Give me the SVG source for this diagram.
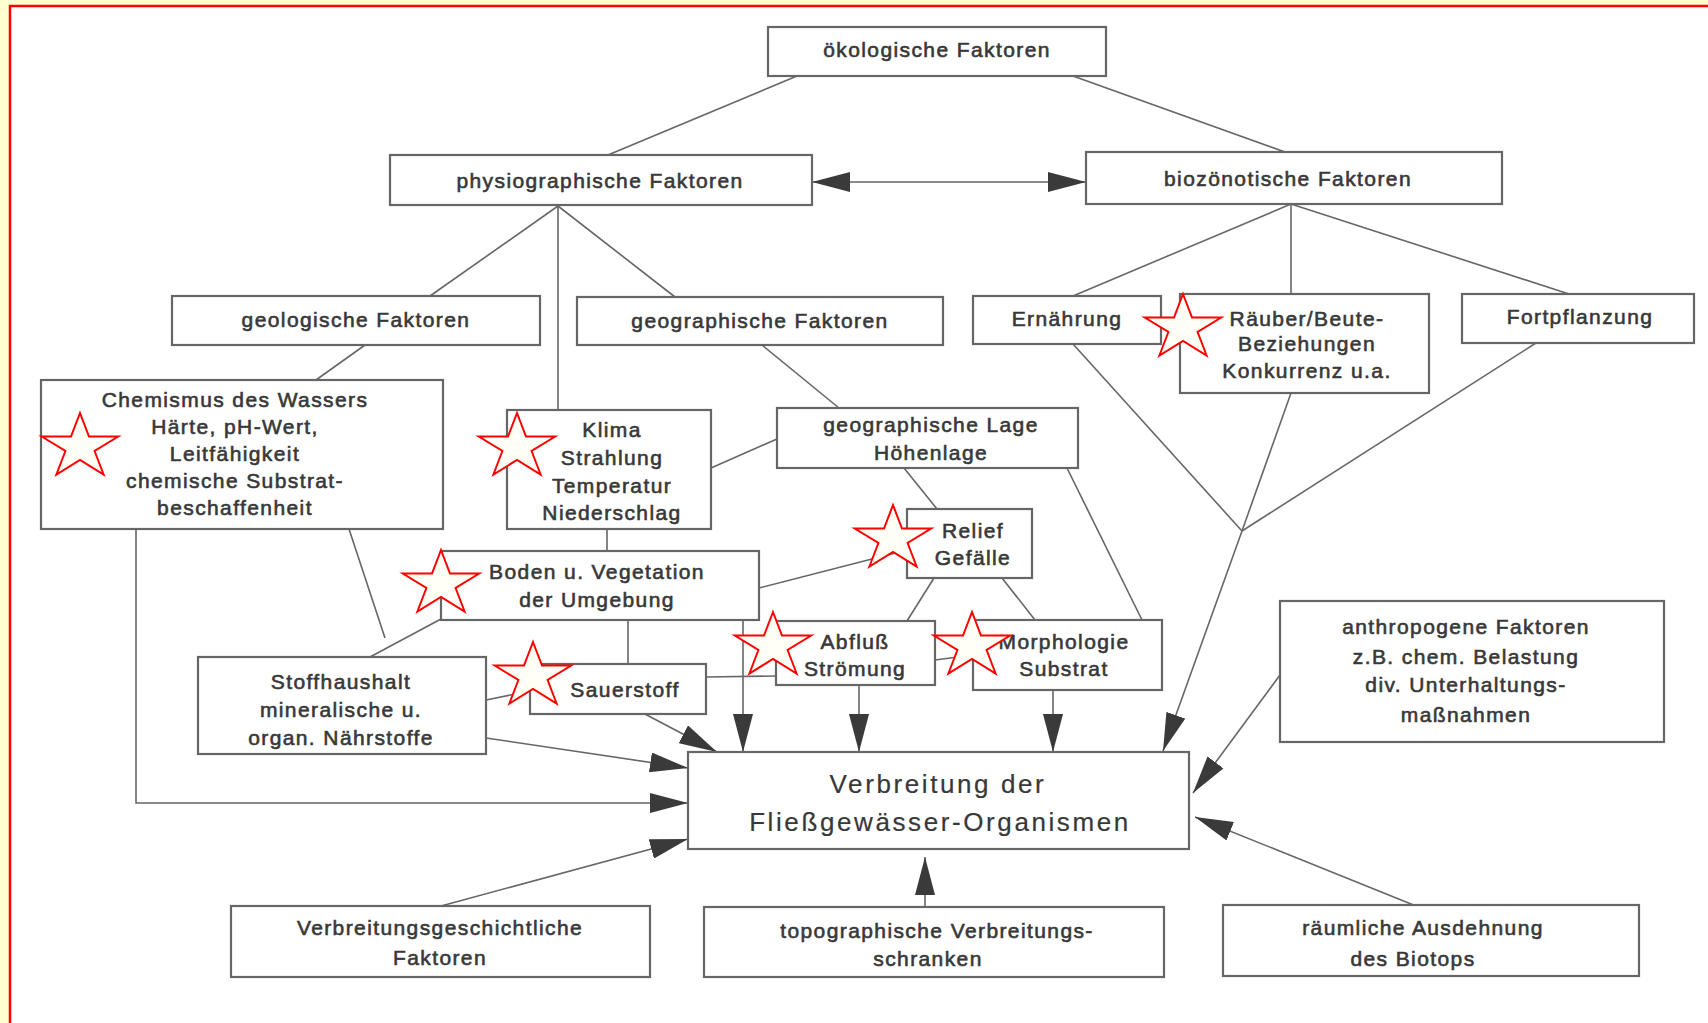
<svg xmlns="http://www.w3.org/2000/svg" width="1708" height="1023" viewBox="0 0 1708 1023">
<style>
.box{fill:#fff;stroke:#666;stroke-width:2.2}
.t{font-family:"Liberation Sans",Arial,sans-serif;font-size:21px;letter-spacing:1.4px;fill:#383838;stroke:#383838;stroke-width:0.6;text-anchor:middle}
.big{font-size:26px;letter-spacing:2.6px;stroke-width:0.2}
.ln{fill:none;stroke:#666;stroke-width:1.6}
.ar{marker-end:url(#ah)}
.star{fill:#fffff5;stroke:#ff0000;stroke-width:2}
</style>
<defs>
<marker id="ah" viewBox="0 0 38 20" refX="38" refY="10" markerWidth="38" markerHeight="20" markerUnits="userSpaceOnUse" orient="auto-start-reverse">
<path d="M0,0 L38,10 L0,20 Z" fill="#3a3a3a"/>
</marker>
<polygon id="star" class="star" points="0,-34 9,-10.5 38.2,-10.5 14.6,4 23.6,27.5 0,13 -23.6,27.5 -14.6,4 -38.2,-10.5 -9,-10.5"/>
</defs>
<rect x="0" y="0" width="1708" height="1023" fill="#ffffd0"/>
<rect x="10" y="6" width="1700" height="1020" fill="#ffffff"/>
<path d="M10,1023 L10,6 L1708,6" fill="none" stroke="#ff0000" stroke-width="2.5"/>

<g id="connectors">
<line class="ln" x1="797" y1="76" x2="608" y2="155"/>
<line class="ln" x1="1073" y1="76" x2="1285" y2="152"/>
<line class="ln" x1="812" y1="182" x2="1086" y2="182" style="marker-start:url(#ah);marker-end:url(#ah)"/>
<line class="ln" x1="558" y1="206" x2="430" y2="296"/>
<line class="ln" x1="558" y1="206" x2="558" y2="410"/>
<line class="ln" x1="558" y1="206" x2="675" y2="297"/>
<line class="ln" x1="1291" y1="204" x2="1073" y2="296"/>
<line class="ln" x1="1291" y1="204" x2="1291" y2="294"/>
<line class="ln" x1="1291" y1="204" x2="1569" y2="294"/>
<line class="ln" x1="365" y1="345" x2="316" y2="380"/>
<line class="ln" x1="762" y1="345" x2="839" y2="408"/>
<line class="ln" x1="711" y1="468" x2="777" y2="439"/>
<line class="ln" x1="904" y1="468" x2="937" y2="509"/>
<line class="ln" x1="1067" y1="468" x2="1142" y2="620"/>
<line class="ln" x1="607" y1="529" x2="607" y2="551"/>
<line class="ln" x1="759" y1="588" x2="907" y2="550"/>
<line class="ln" x1="934" y1="578" x2="907" y2="621"/>
<line class="ln" x1="1002" y1="578" x2="1035" y2="620"/>
<line class="ln" x1="349" y1="529" x2="385" y2="638"/>
<line class="ln" x1="441" y1="619" x2="370" y2="657"/>
<path class="ln ar" d="M136,529 L136,803 L688,803"/>
<line class="ln ar" x1="486" y1="738" x2="688" y2="768"/>
<line class="ln" x1="486" y1="700" x2="530" y2="691"/>
<line class="ln" x1="706" y1="677" x2="776" y2="676"/>
<line class="ln" x1="935" y1="660" x2="973" y2="655"/>
<line class="ln ar" x1="643" y1="713" x2="717" y2="752"/>
<line class="ln" x1="628" y1="620" x2="628" y2="664"/>
<line class="ln ar" x1="743" y1="620" x2="743" y2="752"/>
<line class="ln ar" x1="859" y1="685" x2="859" y2="752"/>
<line class="ln ar" x1="1053" y1="690" x2="1053" y2="752"/>
<line class="ln" x1="1073" y1="344" x2="1242" y2="531"/>
<line class="ln" x1="1291" y1="393" x2="1242" y2="531"/>
<line class="ln" x1="1536" y1="343" x2="1242" y2="531"/>
<line class="ln ar" x1="1242" y1="531" x2="1163" y2="751"/>
<line class="ln ar" x1="1280" y1="675" x2="1193" y2="793"/>
<line class="ln ar" x1="1416" y1="906" x2="1195" y2="817"/>
<line class="ln ar" x1="925" y1="906" x2="925" y2="857"/>
<line class="ln ar" x1="441" y1="906" x2="688" y2="839"/>
</g>

<g id="n-oeko"><rect class="box" x="768" y="27" width="338" height="49"/><text class="t" x="937" y="57">ökologische Faktoren</text></g>
<g id="n-physio"><rect class="box" x="390" y="155" width="422" height="50"/><text class="t" x="600" y="188">physiographische Faktoren</text></g>
<g id="n-bio"><rect class="box" x="1086" y="152" width="416" height="52"/><text class="t" x="1288" y="186">biozönotische Faktoren</text></g>
<g id="n-geol"><rect class="box" x="172" y="296" width="368" height="49"/><text class="t" x="356" y="327">geologische Faktoren</text></g>
<g id="n-geogr"><rect class="box" x="577" y="297" width="366" height="48"/><text class="t" x="760" y="328">geographische Faktoren</text></g>
<g id="n-ern"><rect class="box" x="973" y="296" width="188" height="48"/><text class="t" x="1067" y="326">Ernährung</text></g>
<g id="n-raeuber"><rect class="box" x="1180" y="294" width="249" height="99"/><text class="t" x="1307" y="326">Räuber/Beute-</text><text class="t" x="1307" y="351">Beziehungen</text><text class="t" x="1307" y="378">Konkurrenz u.a.</text></g>
<g id="n-fort"><rect class="box" x="1462" y="294" width="232" height="49"/><text class="t" x="1580" y="324">Fortpflanzung</text></g>
<g id="n-chem"><rect class="box" x="41" y="380" width="402" height="149"/><text class="t" x="235" y="407">Chemismus des Wassers</text><text class="t" x="235" y="434">Härte, pH-Wert,</text><text class="t" x="235" y="461">Leitfähigkeit</text><text class="t" x="235" y="488">chemische Substrat-</text><text class="t" x="235" y="515">beschaffenheit</text></g>
<g id="n-klima"><rect class="box" x="507" y="410" width="204" height="119"/><text class="t" x="612" y="437">Klima</text><text class="t" x="612" y="465">Strahlung</text><text class="t" x="612" y="493">Temperatur</text><text class="t" x="612" y="520">Niederschlag</text></g>
<g id="n-lage"><rect class="box" x="777" y="408" width="301" height="60"/><text class="t" x="931" y="432">geographische Lage</text><text class="t" x="931" y="460">Höhenlage</text></g>
<g id="n-relief"><rect class="box" x="907" y="509" width="125" height="69"/><text class="t" x="973" y="538">Relief</text><text class="t" x="973" y="565">Gefälle</text></g>
<g id="n-boden"><rect class="box" x="441" y="551" width="318" height="69"/><text class="t" x="597" y="579">Boden u. Vegetation</text><text class="t" x="597" y="607">der Umgebung</text></g>
<g id="n-abfluss"><rect class="box" x="776" y="621" width="159" height="64"/><text class="t" x="855" y="649">Abfluß</text><text class="t" x="855" y="676">Strömung</text></g>
<g id="n-morph"><rect class="box" x="973" y="620" width="189" height="70"/><text class="t" x="1064" y="649">Morphologie</text><text class="t" x="1064" y="676">Substrat</text></g>
<g id="n-stoff"><rect class="box" x="198" y="657" width="288" height="97"/><text class="t" x="341" y="689">Stoffhaushalt</text><text class="t" x="341" y="717">mineralische u.</text><text class="t" x="341" y="745">organ. Nährstoffe</text></g>
<g id="n-sauer"><rect class="box" x="530" y="664" width="176" height="50"/><text class="t" x="625" y="697">Sauerstoff</text></g>
<g id="n-anthro"><rect class="box" x="1280" y="601" width="384" height="141"/><text class="t" x="1466" y="634">anthropogene Faktoren</text><text class="t" x="1466" y="664">z.B. chem. Belastung</text><text class="t" x="1466" y="692">div. Unterhaltungs-</text><text class="t" x="1466" y="722">maßnahmen</text></g>
<g id="n-verb"><rect class="box" x="688" y="752" width="501" height="97"/><text class="t big" x="938" y="793">Verbreitung der</text><text class="t big" x="940" y="831">Fließgewässer-Organismen</text></g>
<g id="n-vgesch"><rect class="box" x="231" y="906" width="419" height="71"/><text class="t" x="440" y="935">Verbreitungsgeschichtliche</text><text class="t" x="440" y="965">Faktoren</text></g>
<g id="n-topo"><rect class="box" x="704" y="907" width="460" height="70"/><text class="t" x="937" y="938">topographische Verbreitungs-</text><text class="t" x="928" y="966">schranken</text></g>
<g id="n-raum"><rect class="box" x="1223" y="905" width="416" height="71"/><text class="t" x="1423" y="935">räumliche Ausdehnung</text><text class="t" x="1413" y="966">des Biotops</text></g>

<g id="stars">
<use href="#star" x="1183" y="328"/>
<use href="#star" x="80" y="447"/>
<use href="#star" x="517" y="447"/>
<use href="#star" x="441" y="584"/>
<use href="#star" x="893" y="539"/>
<use href="#star" x="773" y="646"/>
<use href="#star" x="972" y="646"/>
<use href="#star" x="533" y="676"/>
</g>
</svg>
